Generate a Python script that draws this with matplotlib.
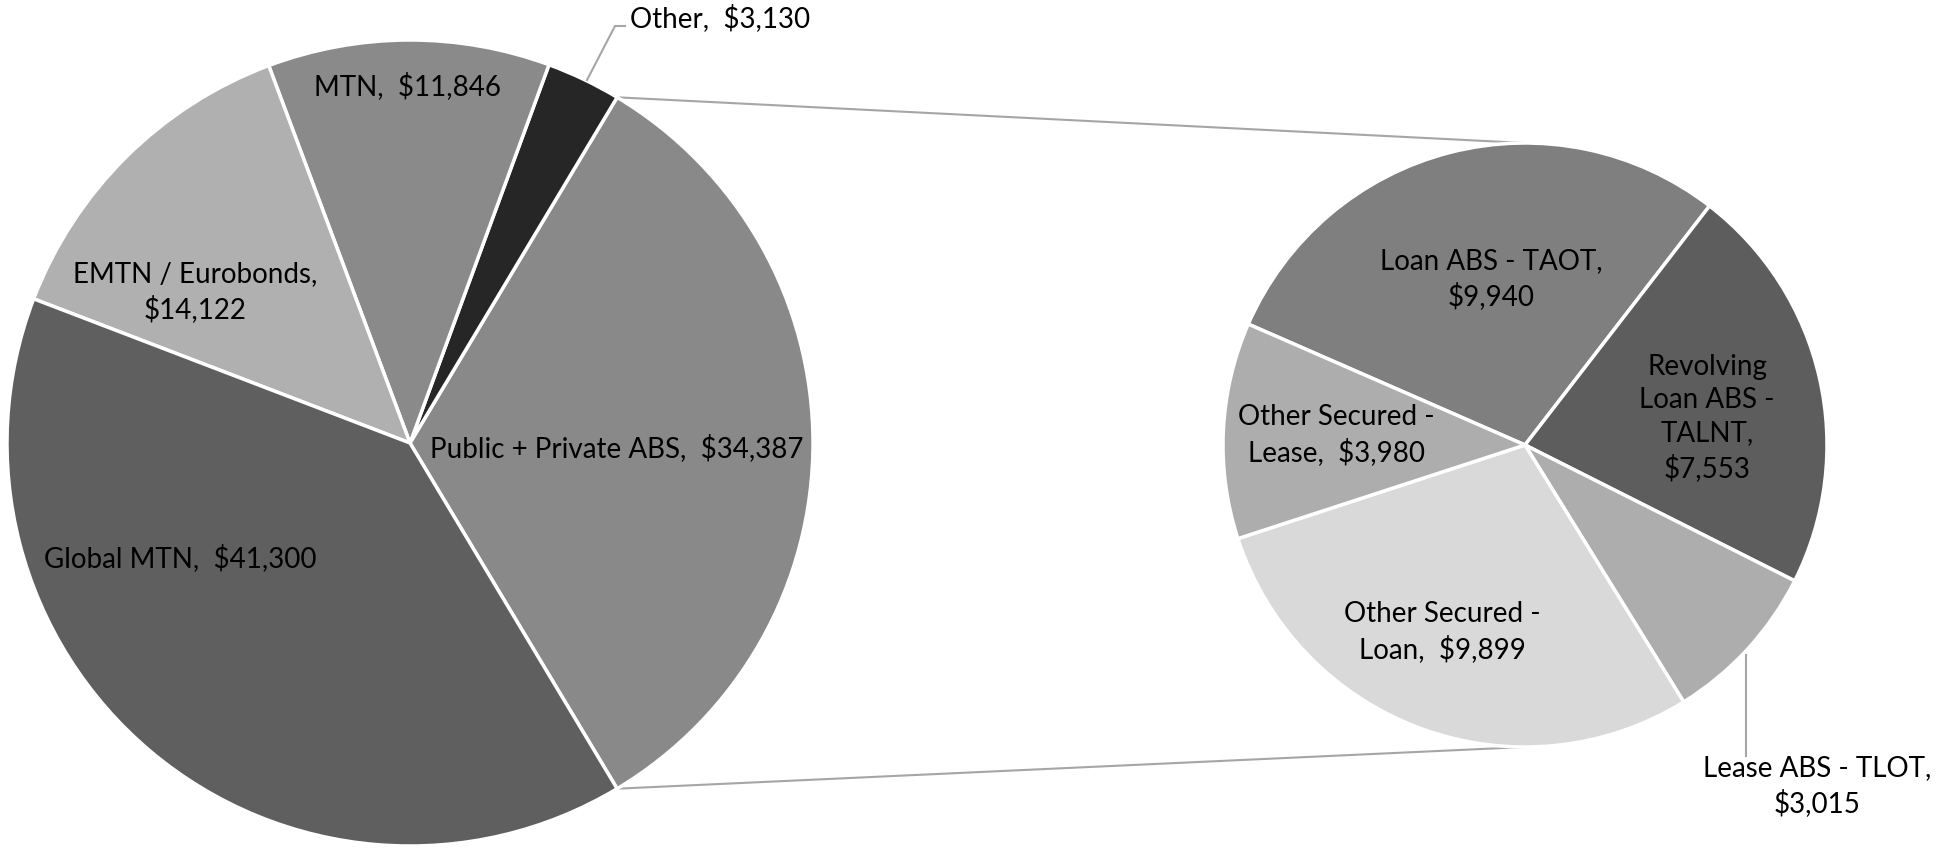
import matplotlib
matplotlib.use("Agg")
import matplotlib.pyplot as plt
import numpy as np

plt.rcParams['font.family'] = ['Lato', 'DejaVu Sans']

# ---- data ----
main_labels = ["Public + Private ABS", "Other", "MTN", "EMTN / Eurobonds", "Global MTN"]
main_values = [34387, 3130, 11846, 14122, 41300]
main_colors = ["#898989", "#262626", "#8a8a8a", "#b0b0b0", "#5f5f5f"]

sub_labels = ["Loan ABS - TAOT", "Revolving Loan ABS - TALNT", "Lease ABS - TLOT",
              "Other Secured - Loan", "Other Secured - Lease"]
sub_values = [9940, 7553, 3015, 9899, 3980]
sub_colors = ["#7f7f7f", "#5d5d5d", "#adadad", "#d9d9d9", "#adadad"]

W, H = 1936, 848
fig = plt.figure(figsize=(W / 100, H / 100), dpi=100)
ax = fig.add_axes([0, 0, 1, 1])

# geometry (pixel coords, y measured from top)
c1 = (410, 443); r1 = 403
c2 = (1525, 445); r2 = 302

def Y(y):
    return H - y

total = sum(main_values)
start1 = -0.5 * main_values[0] / total * 360.0
ax.pie(main_values, colors=main_colors, center=(c1[0], Y(c1[1])), radius=r1,
       startangle=start1, counterclock=True,
       wedgeprops=dict(edgecolor="white", linewidth=2.5))
ax.pie(sub_values, colors=sub_colors, center=(c2[0], Y(c2[1])), radius=r2,
       startangle=156.4, counterclock=False,
       wedgeprops=dict(edgecolor="white", linewidth=2.5))

# connector lines from ABS wedge edges to the secondary pie top/bottom
a = np.deg2rad(start1)
p_top = (c1[0] + r1 * np.cos(-a), Y(c1[1]) + r1 * np.sin(-a))
p_bot = (c1[0] + r1 * np.cos(a), Y(c1[1]) + r1 * np.sin(a))
lc = "#a6a6a6"
ax.plot([p_top[0], c2[0]], [p_top[1], Y(c2[1]) + r2], color=lc, lw=1.5, zorder=0)
ax.plot([p_bot[0], c2[0]], [p_bot[1], Y(c2[1]) - r2], color=lc, lw=1.5, zorder=0)

# leader lines
ax.plot([587, 615, 625], [Y(80), Y(26), Y(26)], color=lc, lw=1.5)
ax.plot([1746, 1746], [Y(655), Y(756)], color=lc, lw=1.5)

fs = 20
def money(v):
    return f"${v:,}"

txt = dict(fontsize=fs, color="black", ha="center", va="center", linespacing=1.35)

ax.text(630, Y(18), f"{main_labels[1]},  {money(main_values[1])}", **{**txt, "ha": "left"})
ax.text(408, Y(86), f"{main_labels[2]},  {money(main_values[2])}", **txt)
ax.text(195, Y(292), f"{main_labels[3]},\n{money(main_values[3])}", **txt)
ax.text(617, Y(448), f"{main_labels[0]},  {money(main_values[0])}", **txt)
ax.text(180, Y(558), f"{main_labels[4]},  {money(main_values[4])}", **txt)

ax.text(1491, Y(279), f"{sub_labels[0]},\n{money(sub_values[0])}", **txt)
ax.text(1707, Y(418), "Revolving\nLoan ABS -\nTALNT,\n" + money(sub_values[1]), **txt)
ax.text(1336, Y(435), "Other Secured -\nLease,  " + money(sub_values[4]), **txt)
ax.text(1442, Y(632), "Other Secured -\nLoan,  " + money(sub_values[3]), **txt)
ax.text(1817, Y(786), f"{sub_labels[2]},\n{money(sub_values[2])}", **txt)

ax.set_xlim(0, W)
ax.set_ylim(0, H)
ax.set_aspect("equal")
ax.axis("off")

fig.savefig("out.png", dpi=100, facecolor="white")
